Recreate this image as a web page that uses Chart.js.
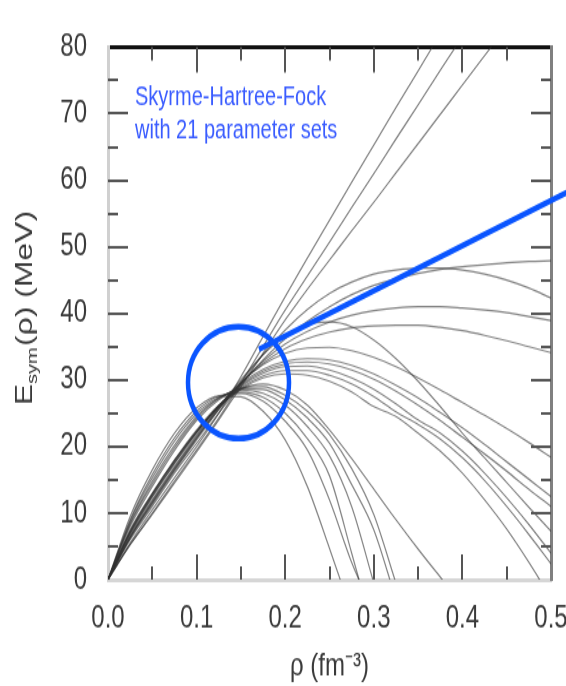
<!DOCTYPE html>
<html>
<head>
<meta charset="utf-8">
<script src="https://cdn.jsdelivr.net/npm/chart.js@4.4.1/dist/chart.umd.min.js"></script>
<style>
html, body { margin: 0; padding: 0; background: #fff; overflow: hidden; }
</style>
</head>
<body>
<!-- drawn 516 high and stretched to 686, the source figure is squashed the same way -->
<canvas id="esym" width="590" height="516" style="width:590px;height:686px"></canvas>
<script>
// density grid (fm^-3) every curve was read at
const rho = [0, 0.025, 0.05, 0.075, 0.1, 0.125, 0.15, 0.175, 0.2, 0.225, 0.25,
             0.275, 0.3, 0.325, 0.35, 0.375, 0.4, 0.425, 0.45, 0.475, 0.5];

// stiff sets, they leave through the top of the frame
const stiff1 = [0, 5.5, 10.5, 15.3, 20, 25, 30.5, 36.5, 42.5, 48.3, 54, 59.7, 65.3, 70.9, 76.4, 82];
const stiff2 = [0, 5.3, 10, 14.8, 19.5, 24.3, 29.5, 35, 40.5, 45.6, 50.7, 55.9, 61, 66.2, 71.3, 76.5, 81.6];
const stiff3 = [0, 5.2, 9.8, 14.5, 19.2, 24, 29, 34, 39, 43.6, 48, 52.4, 56.7, 61.1, 65.5, 69.9, 74.3, 78.7, 83.1];

// sets that flatten out between 38 and 48 MeV
const midA = [0, 6, 11, 16, 20.5, 25, 29.3, 33, 36.2, 38.8, 41, 42.8, 44.2, 45.2, 46, 46.6, 47, 47.3, 47.6, 47.8, 47.9];
const midB = [0, 6.2, 11.3, 16.3, 21, 25.5, 29.7, 33.8, 37.5, 40.6, 43, 44.7, 45.9, 46.5, 46.8, 46.8, 46.5, 45.9, 45, 43.8, 42.3];
const midC = [0, 6.4, 11.6, 16.6, 21.3, 25.6, 29.5, 32.8, 35.4, 37.3, 38.7, 39.7, 40.4, 40.8, 41, 41, 40.8, 40.5, 40.1, 39.5, 38.9];
const midD = [0, 6.5, 11.8, 16.8, 21.5, 25.8, 29.5, 32.5, 34.7, 36.2, 37.2, 37.8, 38.1, 38.2, 38.2, 37.9, 37.4, 36.7, 35.9, 35, 34.1];

// sets that turn over near 0.2-0.25 and fall towards the right edge
const fall1 = [0, 6.7, 12, 17, 21.7, 26, 29.6, 32.3, 34, 34.8, 34.9, 34.4, 33.4, 32, 30.3, 28.5, 26.6, 24.7, 22.7, 20.6, 18.4];
const fall2 = [0, 6.3, 11.5, 16.5, 21.2, 25.8, 30, 33.8, 36.6, 38.3, 38.7, 38, 36, 33.2, 29.8, 26, 22, 18.3, 14.6, 10.9, 7.3];
const fall3 = [0, 6.9, 12.4, 17.4, 22, 26.1, 29.4, 31.6, 32.8, 33.2, 33, 32.2, 30.9, 29.2, 27.3, 25.1, 22.8, 20.3, 17.7, 15.1, 12.5];
const fall4 = [0, 7, 12.5, 17.5, 22.1, 26.1, 29.2, 31.3, 32.4, 32.7, 32.4, 31.5, 30.1, 28.3, 26.2, 23.9, 21.4, 18.9, 16.3, 13.6, 11];
const fall5 = [0, 7.1, 12.7, 17.7, 22.2, 26.1, 29, 31, 32, 32.1, 31.5, 30.3, 28.6, 26.4, 24, 22, 19.3, 16, 12.3, 8.3, 4];
const fall6 = [0, 7.2, 12.8, 17.8, 22.3, 26, 28.8, 30.6, 31.4, 31.4, 30.7, 29.4, 27.5, 25.2, 23.3, 21.1, 18.3, 14.9, 11, 6.8, 2.4];
const fall7 = [0, 7.3, 12.9, 17.9, 22.3, 25.9, 28.6, 30.3, 30.9, 30.7, 29.8, 28.2, 26, 24.5, 22, 19.3, 16, 12, 7.6, 2.6, -2.8];
const fall8 = [0, 7.5, 13, 18, 22.5, 26.2, 28.6, 29.4, 28.5, 26.2, 22.5, 18.2, 13.6, 9, 4.6, 0.4, -3.8];

// soft sets, back to zero before 0.33
const soft1 = [0, 9.5, 16.5, 22, 25.8, 27.6, 27.5, 25.3, 21, 14, 4.7, -5];
const soft2 = [0, 9, 15.8, 21.3, 25.3, 27.6, 28, 26.8, 23.8, 19.5, 12, 2.6, -5];
const soft3 = [0, 8.8, 15.3, 20.8, 24.9, 27.4, 28.2, 27.4, 25, 21.2, 15.6, 4, -8];
const soft4 = [0, 8.5, 14.8, 20.2, 24.5, 27.3, 28.5, 28, 26.2, 23, 18.6, 11, -0.5];
const soft5 = [0, 8.3, 14.4, 19.8, 24.2, 27.2, 28.7, 28.6, 27, 24.3, 20.5, 14.3, 7.5, -3];
const soft6 = [0, 8, 14, 19.4, 23.9, 27, 28.8, 29, 27.7, 25.3, 21.8, 16.7, 9.8, -0.5];

const xTicks = [0, 0.1, 0.2, 0.3, 0.4, 0.5];
const yTicks = [0, 10, 20, 30, 40, 50, 60, 70, 80];

const allSets = [stiff1, stiff2, stiff3, midA, midB, midC, midD,
                 fall1, fall2, fall3, fall4, fall5, fall6, fall7, fall8,
                 soft1, soft2, soft3, soft4, soft5, soft6];

const FONT = '"Liberation Sans", Arial, sans-serif';
const BLUE = '#0a55ff';

// inward tick marks on all four sides, minor ones halfway
const frameTicks = {
    id: 'frameTicks',
    afterDatasetsDraw(chart) {
        const {ctx, chartArea: a, scales: {x, y}} = chart;
        ctx.save();
        ctx.strokeStyle = '#555';
        ctx.lineWidth = 2;
        ctx.beginPath();
        for (let i = 1; i < xTicks.length * 2 - 2; i++) {
            const px = Math.round(x.getPixelForValue(i * xTicks[1] / 2));
            const len = i % 2 ? 10 : 19;
            ctx.moveTo(px, a.bottom); ctx.lineTo(px, a.bottom - len);
            ctx.moveTo(px, a.top); ctx.lineTo(px, a.top + len);
        }
        for (let j = 1; j < yTicks.length * 2 - 2; j++) {
            const py = Math.round(y.getPixelForValue(j * yTicks[1] / 2));
            const len = j % 2 ? 10 : 20;
            ctx.moveTo(a.left, py); ctx.lineTo(a.left + len, py);
            ctx.moveTo(a.right, py); ctx.lineTo(a.right - len, py);
        }
        ctx.stroke();
        ctx.restore();
    }
};

// y title has a subscript, so it is drawn by hand
const yTitle = {
    id: 'yTitle',
    afterDraw(chart) {
        const {ctx, chartArea: a} = chart;
        const big = '24px ' + FONT, small = '15px ' + FONT;
        ctx.save();
        ctx.fillStyle = '#3a3a3a';
        ctx.textBaseline = 'alphabetic';
        ctx.font = big;
        const wE = ctx.measureText('E').width;
        const wRest = ctx.measureText('(\u03c1) (MeV)').width;
        ctx.font = small;
        const wSub = ctx.measureText('sym').width + 1;
        const total = wE + wSub + wRest;
        ctx.translate(32, (a.top + a.bottom) / 2 - 4);
        ctx.rotate(-Math.PI / 2);
        let cx = -total / 2;
        ctx.font = big;
        ctx.fillText('E', cx, 0);
        cx += wE;
        ctx.font = small;
        ctx.fillText('sym', cx, 5);
        cx += wSub;
        ctx.font = big;
        ctx.fillText('(\u03c1) (MeV)', cx, 0);
        ctx.restore();
    }
};

// blue ring round the crossing point, pointer line and the note
const blueNote = {
    id: 'blueNote',
    afterDraw(chart) {
        const {ctx, chartArea: a, scales: {x, y}} = chart;
        ctx.save();
        ctx.strokeStyle = BLUE;
        ctx.lineWidth = 4.5;
        const cx = x.getPixelForValue(0.1473), cy = y.getPixelForValue(29.6);
        const rx = x.getPixelForValue(0.1473 + 0.057) - cx;
        const ry = cy - y.getPixelForValue(29.6 + 8.4);
        ctx.beginPath();
        ctx.ellipse(cx, cy, rx, ry, 0, 0, Math.PI * 2);
        ctx.stroke();
        ctx.beginPath();
        ctx.moveTo(x.getPixelForValue(0.1704), y.getPixelForValue(34.6));
        ctx.lineTo(x.getPixelForValue(0.56), y.getPixelForValue(61));
        ctx.stroke();

        ctx.fillStyle = '#3a5cff';
        ctx.font = '20px ' + FONT;
        ctx.textBaseline = 'middle';
        ctx.fillText('Skyrme-Hartree-Fock', a.left + 27, a.top + 38);
        ctx.fillText('with 21 parameter sets', a.left + 27, a.top + 63);
        ctx.restore();
    }
};

const ctx = document.getElementById('esym').getContext('2d');
const chart = new Chart(ctx, {
    type: 'line',
    data: {
        datasets: allSets.map((vals, k) => ({
            label: 'set ' + (k + 1),
            data: vals.map((v, i) => ({x: rho[i], y: v})),
            borderColor: 'rgba(50,50,50,0.6)',
            borderWidth: 1.2,
            pointRadius: 0,
            cubicInterpolationMode: 'monotone',
            fill: false
        }))
    },
    options: {
        responsive: false,
        animation: false,
        devicePixelRatio: 1,
        layout: { padding: 0 },
        plugins: { legend: { display: false }, tooltip: { enabled: false } },
        scales: {
            x: {
                type: 'linear', position: 'bottom', min: 0, max: 0.5,
                afterBuildTicks: s => { s.ticks = xTicks.map(v => ({value: v})); },
                afterFit: s => { s.height = 80; },
                ticks: {
                    padding: 15, color: '#3a3a3a', font: {family: FONT, size: 24},
                    callback: v => v.toFixed(1), maxRotation: 0, autoSkip: false
                },
                grid: { drawOnChartArea: false, drawTicks: false },
                border: { color: '#d6d6d6', width: 3 },
                title: {
                    display: true, text: '\u03c1 (fm\u207b\u00b3)', color: '#3a3a3a',
                    font: {family: FONT, size: 24}, padding: {top: 0, bottom: 0}
                }
            },
            x2: {
                type: 'linear', position: 'top', min: 0, max: 0.5,
                afterFit: s => { s.height = 16; },
                ticks: { display: false },
                grid: { drawOnChartArea: false, drawTicks: false },
                border: { color: '#111', width: 3 }
            },
            y: {
                type: 'linear', position: 'left', min: 0, max: 80,
                afterBuildTicks: s => { s.ticks = yTicks.map(v => ({value: v})); },
                afterFit: s => { s.width = 108; },
                ticks: { padding: 21, color: '#3a3a3a', font: {family: FONT, size: 24} },
                grid: { drawOnChartArea: false, drawTicks: false },
                border: { color: '#d0d0d0', width: 3 }
            },
            y2: {
                type: 'linear', position: 'right', min: 0, max: 80,
                afterFit: s => { s.width = 39; },
                ticks: { display: false },
                grid: { drawOnChartArea: false, drawTicks: false },
                border: { color: '#808080', width: 3 }
            }
        }
    },
    plugins: [frameTicks, yTitle, blueNote]
});
</script>
</body>
</html>
